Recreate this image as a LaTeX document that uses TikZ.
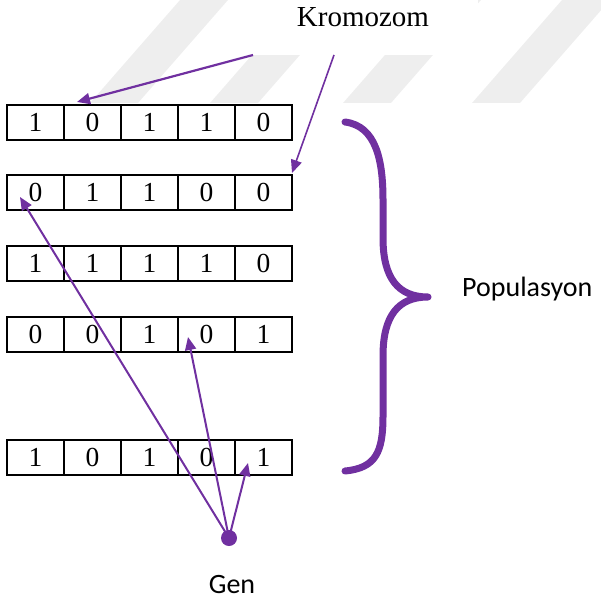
\documentclass[tikz,border=0pt]{standalone}
\usepackage{fontspec}
\setmainfont{Liberation Serif}
\newfontfamily\calib{Carlito}
\usetikzlibrary{arrows.meta}
\definecolor{pur}{HTML}{7030A0}
\definecolor{wm}{RGB}{238,238,238}

\begin{document}
\begin{tikzpicture}[x=1pt,y=-1pt,
  cell/.style={draw=black, line width=1.3pt, minimum width=57pt, minimum height=35pt,
               inner sep=0pt, outer sep=0pt, font=\fontsize{27.5}{29}\selectfont},
  ptr/.style={draw=pur, line width=2pt, -{Triangle[length=13pt,width=11pt]}},
  sanslbl/.style={font=\calib\fontsize{28}{30}\selectfont, inner sep=0pt},
  stripe/.style={fill=wm, draw=none}]
\useasboundingbox (0,0) rectangle (600,601);

% faint diagonal background stripes
\foreach \sx in {90,210,343,472}
  \fill[stripe] (\sx,103) -- (\sx+48,103) -- (\sx+138,0) -- (\sx+90,0) -- cycle;

% title box
\node[fill=white, minimum width=225pt, minimum height=55pt, inner sep=0pt,
      anchor=north west] (krombox) at (253,0) {};
\node[font=\fontsize{29}{31}\selectfont, inner sep=0pt, anchor=base] (krom) at (363,27) {Kromozom};

% chromosome rows
\foreach \r/\y/\bits in {1/122.5/{1,0,1,1,0}, 2/192.5/{0,1,1,0,0}, 3/263.5/{1,1,1,1,0},
                         4/334.5/{0,0,1,0,1}, 5/457.5/{1,0,1,0,1}} {
  \foreach \b [count=\i] in \bits
    \node[cell] (c\r-\i) at ({35.5+57*(\i-1)},\y) {\b};
}

% population brace
\draw[pur, line width=7pt, line cap=round, line join=round]
  (345,122) .. controls (376,126) and (383,160) .. (383,200)
  -- (383,238) .. controls (383,278) and (398,297) .. (428,297)
  .. controls (398,297) and (383,316) .. (383,356)
  -- (383,416) .. controls (383,452) and (376,468) .. (345,471);
\node[sanslbl, anchor=base west] (pop) at (462,296) {Populasyon};

% arrows from the title
\coordinate (kl) at (253,55);
\coordinate (kr) at (334,55);
\coordinate (t1) at (77,102);
\coordinate (t2) at (292,173);
\draw[ptr, line width=2.2pt] (kl) -- (t1);
\draw[ptr, line width=1.6pt] (kr) -- (t2);

% gene pointer
\node[circle, fill=pur, minimum size=16pt, inner sep=0pt] (gendot) at (229,538) {};
\node[sanslbl, anchor=base] (gen) at (232,593) {Gen};
\coordinate (g1) at (20,197);
\coordinate (g2) at (188,337);
\coordinate (g3) at (248,463);
\draw[ptr] (gendot.center) -- (g1);
\draw[ptr] (gendot.center) -- (g2);
\draw[ptr] (gendot.center) -- (g3);
\end{tikzpicture}
\end{document}
